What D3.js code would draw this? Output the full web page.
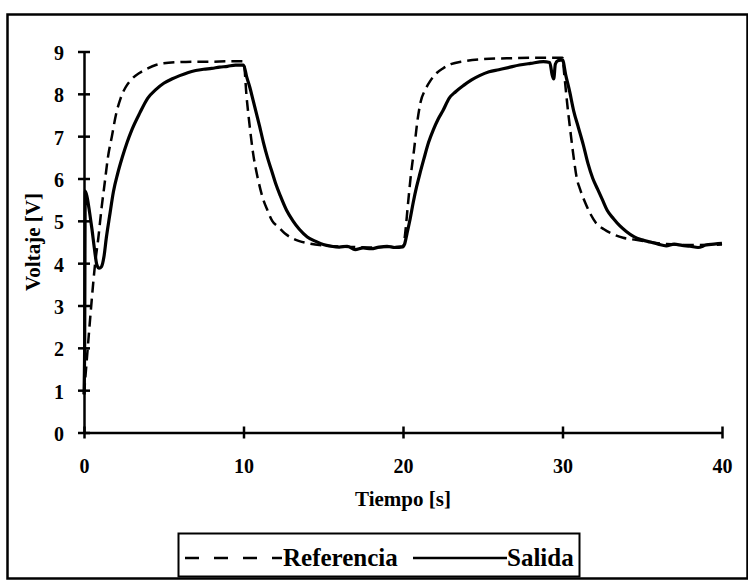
<!DOCTYPE html>
<html>
<head>
<meta charset="utf-8">
<script src="https://cdn.jsdelivr.net/npm/d3@7"></script>
<style>
  html, body { margin: 0; padding: 0; background: #fff; }
  svg { display: block; }
  text { font-family: "Liberation Serif", "Times New Roman", serif; font-weight: bold; fill: #000; }
</style>
</head>
<body>
<svg id="chart" width="748" height="581"></svg>
<script>
// Reference signal (dashed): time [s] and voltage [V]
const refTime = [0,0.15,0.3,0.5,0.7,0.9,1.1,1.3,1.5,1.75,2.0,2.3,2.6,3.0,3.5,4.0,4.5,5.0,6.0,7.0,8.0,9.0,
  10.0,10.2,10.4,10.6,10.9,11.2,11.5,11.8,12.2,12.6,13.0,13.5,14.2,15,16,17,18,19,
  20.0,20.15,20.3,20.5,20.7,20.9,21.1,21.4,21.7,22.0,22.5,23.0,23.8,25.0,26.5,28,29,
  30.0,30.1,30.3,30.5,30.7,30.9,31.1,31.4,31.7,32.1,32.6,33.2,33.8,34.6,35.5,36.5,38,40];
const refVolt = [0.9,1.6,2.3,3.2,4.0,4.6,5.3,5.9,6.5,7.0,7.5,7.9,8.15,8.35,8.5,8.6,8.68,8.72,8.75,8.76,8.76,8.77,
  8.77,7.9,7.2,6.6,6.0,5.55,5.25,5.0,4.85,4.7,4.6,4.52,4.46,4.42,4.39,4.38,4.37,4.38,
  4.38,4.75,5.35,6.1,6.7,7.35,7.8,8.1,8.3,8.45,8.6,8.7,8.77,8.82,8.84,8.85,8.85,
  8.85,8.5,7.75,7.1,6.5,6.0,5.75,5.45,5.2,4.95,4.8,4.68,4.6,4.55,4.5,4.45,4.43,4.44];

// Measured output (solid): time [s] and voltage [V]
const outTime = [0,0.04,0.08,0.2,0.35,0.5,0.65,0.8,0.95,1.1,1.25,1.4,1.6,1.85,2.1,2.4,2.7,3.0,3.5,4.0,4.5,5.0,5.5,6.0,6.5,7.0,7.5,8.0,8.5,9.0,9.5,9.9,
  10.0,10.2,10.4,10.6,10.8,11.0,11.25,11.5,11.75,12.0,12.3,12.7,13.1,13.5,14.0,14.5,15.0,15.5,16.0,16.5,17.0,17.5,18.0,18.5,19.0,19.5,
  20.0,20.1,20.25,20.45,20.65,20.85,21.05,21.3,21.6,21.9,22.2,22.5,22.9,23.3,23.8,24.3,24.8,25.4,26.0,26.6,27.3,28.0,28.8,29.2,29.35,29.45,29.55,29.7,
  30.0,30.2,30.45,30.7,31.0,31.3,31.6,31.9,32.2,32.5,32.8,33.2,33.6,34.0,34.5,35.0,35.5,36.0,36.5,37.0,37.5,38.0,38.5,39.0,39.5,40.0];
const outVolt = [0.9,2.0,5.7,5.55,5.2,4.8,4.35,3.97,3.88,3.92,4.15,4.6,5.1,5.7,6.1,6.5,6.85,7.15,7.55,7.9,8.1,8.25,8.35,8.43,8.5,8.55,8.58,8.6,8.63,8.65,8.68,8.68,
  8.68,8.4,8.15,7.85,7.55,7.25,6.85,6.5,6.2,5.9,5.6,5.25,5.0,4.8,4.62,4.52,4.44,4.4,4.38,4.4,4.32,4.36,4.34,4.38,4.4,4.37,
  4.39,4.45,4.7,5.05,5.45,5.8,6.1,6.45,6.85,7.15,7.4,7.6,7.9,8.05,8.2,8.33,8.43,8.52,8.57,8.62,8.68,8.72,8.76,8.74,8.45,8.35,8.7,8.78,
  8.8,8.45,8.05,7.6,7.2,6.8,6.35,6.0,5.75,5.5,5.25,5.05,4.88,4.75,4.62,4.55,4.5,4.45,4.41,4.45,4.42,4.4,4.37,4.43,4.45,4.47];

const xTicks = [0, 10, 20, 30, 40];
const yTicks = [0, 1, 2, 3, 4, 5, 6, 7, 8, 9];
const xTitle = "Tiempo [s]";
const yTitle = "Voltaje [V]";
const seriesNames = ["Referencia", "Salida"];

const svg = d3.select("#chart");

// outer frame
svg.append("rect")
  .attr("x", 7.5).attr("y", 14.5).attr("width", 740).attr("height", 564)
  .attr("fill", "none").attr("stroke", "#000").attr("stroke-width", 2.5);

const x = d3.scaleLinear().domain([0, 40]).range([84, 722]);
const y = d3.scaleLinear().domain([0, 9]).range([432.5, 51.5]);

// axes with ticks crossing the axis line
const xAxis = svg.append("g")
  .attr("transform", `translate(0,${y(0)})`)
  .call(d3.axisBottom(x).tickValues(xTicks).tickSize(6).tickSizeOuter(0).tickPadding(20).tickFormat(d3.format("d")));
xAxis.selectAll(".tick line").attr("y1", -6);
const yAxis = svg.append("g")
  .attr("transform", `translate(${x(0)},0)`)
  .call(d3.axisLeft(y).tickValues(yTicks).tickSize(6).tickSizeOuter(0).tickPadding(14).tickFormat(d3.format("d")));
yAxis.selectAll(".tick line").attr("x1", 6);
yAxis.selectAll(".tick text").attr("dy", "0.4em");

[xAxis, yAxis].forEach(g => {
  g.select(".domain").attr("stroke", "#000").attr("stroke-width", 2.5);
  g.selectAll(".tick line").attr("stroke", "#000").attr("stroke-width", 2.5);
  g.selectAll(".tick text")
    .style("font-family", "'Liberation Serif', serif")
    .style("font-weight", "bold")
    .style("font-size", "20px")
    .attr("fill", "#000");
});

// axis titles
svg.append("text")
  .attr("x", x(20)).attr("y", 506)
  .attr("text-anchor", "middle").style("font-size", "21px")
  .text(xTitle);
svg.append("text")
  .attr("transform", `translate(40,${y(4.5)}) rotate(-90)`)
  .attr("text-anchor", "middle").style("font-size", "21px")
  .text(yTitle);

// series
const refData = refTime.map((t, i) => [t, refVolt[i]]);
const outData = outTime.map((t, i) => [t, outVolt[i]]);
const line = d3.line().x(d => x(d[0])).y(d => y(d[1])).curve(d3.curveMonotoneX);

svg.append("path").datum(refData)
  .attr("d", line).attr("fill", "none")
  .attr("stroke", "#000").attr("stroke-width", 2.5)
  .attr("stroke-dasharray", "11,6");
svg.append("path").datum(outData)
  .attr("d", line).attr("fill", "none")
  .attr("stroke", "#000").attr("stroke-width", 3.2)
  .attr("stroke-linejoin", "round");

// legend
const lg = svg.append("g");
lg.append("rect")
  .attr("x", 178.5).attr("y", 533.5).attr("width", 401).attr("height", 43)
  .attr("fill", "#fff").attr("stroke", "#000").attr("stroke-width", 2);
lg.append("line")
  .attr("x1", 185).attr("x2", 282).attr("y1", 558).attr("y2", 558)
  .attr("stroke", "#000").attr("stroke-width", 2.5).attr("stroke-dasharray", "14,15");
lg.append("text").attr("x", 283).attr("y", 566).style("font-size", "25px").text(seriesNames[0]);
lg.append("line")
  .attr("x1", 413).attr("x2", 507).attr("y1", 558).attr("y2", 558)
  .attr("stroke", "#000").attr("stroke-width", 2.5);
lg.append("text").attr("x", 507).attr("y", 566).style("font-size", "25px").text(seriesNames[1]);
</script>
</body>
</html>
